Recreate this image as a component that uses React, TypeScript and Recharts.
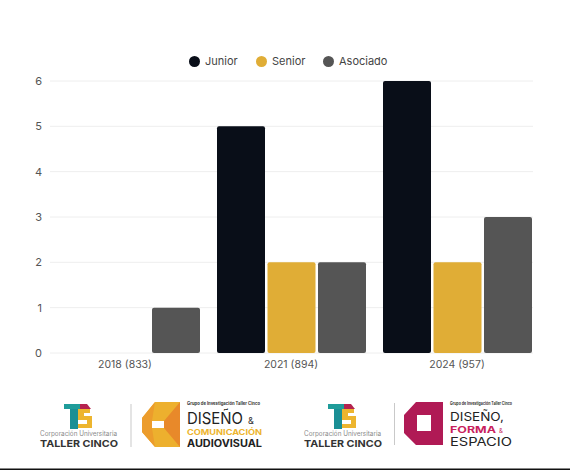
import {
  BarChart,
  Bar,
  XAxis,
  YAxis,
  CartesianGrid,
  Legend,
} from "recharts";

const categories = ["2018 (833)", "2021 (894)", "2024 (957)"];
const junior = [0, 5, 6];
const senior = [0, 2, 2];
const asociado = [1, 2, 3];
const yTicks = [0, 1, 2, 3, 4, 5, 6];

const chartData = categories.map((name, i) => ({
  name,
  Junior: junior[i],
  Senior: senior[i],
  Asociado: asociado[i],
}));

const FONT = "Inter, 'Open Sans', sans-serif";
const LOGO_FONT = "Inter, 'Liberation Sans', sans-serif";

const legendItems = [
  { label: "Junior", color: "#090e18", width: 67 },
  { label: "Senior", color: "#e0ad36", width: 67 },
  { label: "Asociado", color: "#555555", width: 70 },
];

function ChartLegend() {
  return (
    <div style={{ display: "flex", fontFamily: FONT, fontSize: 11, lineHeight: "14px", color: "#444" }}>
      {legendItems.map((item) => (
        <div key={item.label} style={{ display: "flex", alignItems: "center", width: item.width }}>
          <span
            style={{
              width: 11,
              height: 11,
              borderRadius: "50%",
              background: item.color,
              marginRight: 5,
            }}
          />
          {item.label}
        </div>
      ))}
    </div>
  );
}

// the "TS" mark and university name, shared by both logos
function SchoolMark({ x }: { x: number }) {
  return (
    <g transform={`translate(${x},0)`}>
      <rect x={64} y={404} width={16} height={5} fill="#1f9c9a" />
      <path d="M80 404H87L91 409H80Z" fill="#b5234f" />
      <rect x={70} y={409} width={8} height={20} fill="#1a8f95" />
      <path d="M78 409H90V413H84V416H92V428H78V424H87V420H78Z" fill="#edb52f" />
      <text x={40} y={436} fontSize={7} fill="#8a8a8a" textLength={77} lengthAdjust="spacingAndGlyphs">
        Corporación Universitaria
      </text>
      <text x={40} y={447} fontSize={9.5} fontWeight={700} fill="#333" textLength={78} lengthAdjust="spacingAndGlyphs">
        TALLER CINCO
      </text>
    </g>
  );
}

function Logos() {
  return (
    <svg
      width={570}
      height={470}
      style={{ position: "absolute", left: 0, top: 0, pointerEvents: "none" }}
      fontFamily={LOGO_FONT}
    >
      <SchoolMark x={0} />
      <rect x={130.5} y={404} width={1} height={43} fill="#c9c9c9" />
      <path d="M155 402H180V447H155L142 432V418Z" fill="#edb02e" />
      <path d="M180 402V447L164 428V421Z" fill="#e8892a" />
      <path d="M155 402L142 418V432L155 447L152 428V421Z" fill="#ec9c2c" />
      <rect x={152} y={421} width={12} height={7} fill="#fff" />
      <text x={187} y={405} fontSize={4.5} fontWeight={700} fill="#333" textLength={73} lengthAdjust="spacingAndGlyphs">
        Grupo de Investigación Taller Cinco
      </text>
      <text x={187} y={424} fontSize={16} fill="#222" textLength={56} lengthAdjust="spacingAndGlyphs">
        DISEÑO
      </text>
      <text x={248} y={424} fontSize={9} fill="#333">
        &amp;
      </text>
      <text x={187} y={435} fontSize={8} fontWeight={700} fill="#edb52f" textLength={75} lengthAdjust="spacingAndGlyphs">
        COMUNICACIÓN
      </text>
      <text x={187} y={447} fontSize={10} fontWeight={700} fill="#222" textLength={75} lengthAdjust="spacingAndGlyphs">
        AUDIOVISUAL
      </text>

      <SchoolMark x={264} />
      <rect x={394} y={403} width={1} height={42} fill="#c9c9c9" />
      <path
        fillRule="evenodd"
        d="M416 402H443V445H416L404 433V415ZM417 415V431H431V415Z"
        fill="#b01a55"
      />
      <text x={450} y={405} fontSize={4.5} fontWeight={700} fill="#333" textLength={62} lengthAdjust="spacingAndGlyphs">
        Grupo de Investigación Taller Cinco
      </text>
      <text x={450} y={420.5} fontSize={12} fill="#222" textLength={54} lengthAdjust="spacingAndGlyphs">
        DISEÑO,
      </text>
      <text x={450} y={432.5} fontSize={9} fontWeight={700} fill="#c81f5d" textLength={46} lengthAdjust="spacingAndGlyphs">
        FORMA
      </text>
      <text x={499} y={432.5} fontSize={6} fill="#c81f5d">
        &amp;
      </text>
      <text x={450} y={446} fontSize={12} fill="#222" textLength={62} lengthAdjust="spacingAndGlyphs">
        ESPACIO
      </text>

      <rect x={0} y={468.5} width={570} height={1.5} fill="#111" />
    </svg>
  );
}

export default function App() {
  return (
    <div style={{ position: "absolute", left: 0, top: 0, width: 570, height: 470, background: "#fff" }}>
      <BarChart
        width={570}
        height={470}
        data={chartData}
        margin={{ top: 67, right: 37, bottom: 87, left: 0 }}
        barGap={2.5}
        barCategoryGap={9}
      >
        <CartesianGrid vertical={false} stroke="#eeeeee" />
        <XAxis
          dataKey="name"
          axisLine={false}
          tickLine={false}
          height={30}
          padding={{ left: -8, right: -7 }}
          tick={{ fontFamily: FONT, fontSize: 10.5, fill: "#555" }}
        />
        <YAxis
          width={50}
          domain={[0, 6]}
          ticks={yTicks}
          axisLine={false}
          tickLine={false}
          tickMargin={2}
          tick={{ fontFamily: FONT, fontSize: 11, fill: "#555" }}
        />
        <Legend
          verticalAlign="top"
          content={<ChartLegend />}
          wrapperStyle={{ position: "absolute", left: 189, top: 54, width: 210 }}
        />
        <Bar dataKey="Junior" fill="#090e18" radius={2} isAnimationActive={false} />
        <Bar dataKey="Senior" fill="#e0ad36" radius={2} isAnimationActive={false} />
        <Bar dataKey="Asociado" fill="#555555" radius={2} isAnimationActive={false} />
      </BarChart>
      <Logos />
    </div>
  );
}
